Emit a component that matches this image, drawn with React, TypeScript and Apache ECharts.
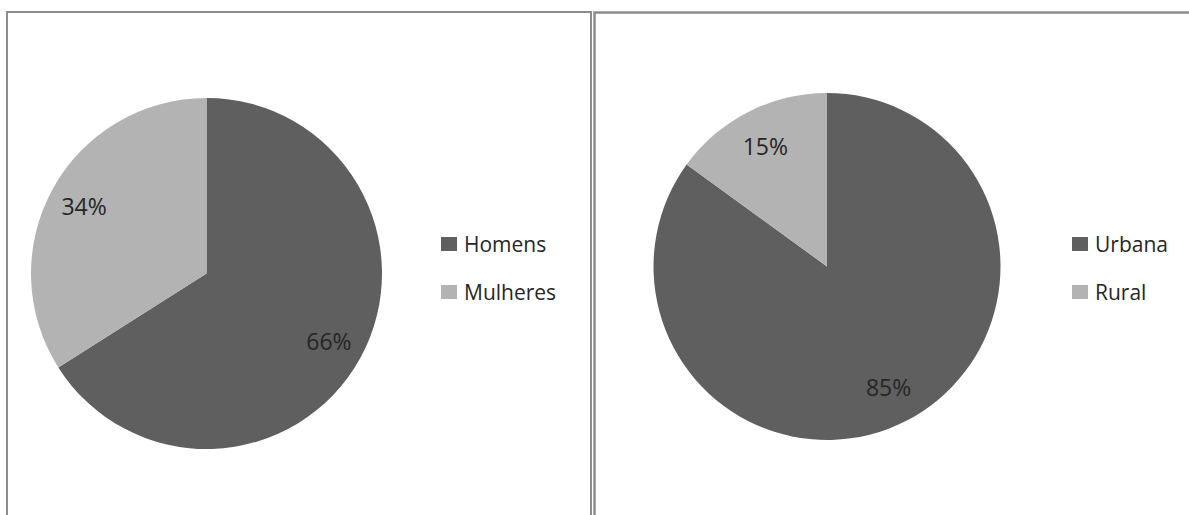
import React, { useEffect, useRef } from "react";
import * as echarts from "echarts";

const sexCategories = ["Homens", "Mulheres"];
const sexValues = [66, 34];
const areaCategories = ["Urbana", "Rural"];
const areaValues = [85, 15];
const sliceColors = ["#5f5f5f", "#b3b3b3"];

const FONT = "Open Sans";

function pieData(names: string[], values: number[], suffix = "") {
  return names.map((n, i) => ({
    name: n + suffix,
    value: values[i],
    itemStyle: { color: suffix ? "transparent" : sliceColors[i] },
  }));
}

export default function App() {
  const ref = useRef<HTMLDivElement>(null);
  useEffect(() => {
    if (!ref.current) return;
    const chart = echarts.init(ref.current, undefined, { renderer: "svg" });
    const legendBase = {
      orient: "vertical" as const,
      itemWidth: 16,
      itemHeight: 14,
      itemGap: 27,
      icon: "rect",
      selectedMode: false,
      padding: 0,
      textStyle: {
        fontFamily: FONT,
        fontSize: 21,
        lineHeight: 21,
        color: "#262626",
        padding: [0, 0, 0, 2],
      },
    };
    const labelStyle = {
      show: true,
      position: "inside" as const,
      formatter: "{d}%",
      fontFamily: FONT,
      fontSize: 23,
      color: "#262626",
    };
    chart.setOption({
      animation: false,
      backgroundColor: "#ffffff",
      graphic: [
        {
          type: "rect",
          shape: { x: 7, y: 12, width: 584, height: 600 },
          style: { fill: "none", stroke: "#8c8c8c", lineWidth: 2 },
          silent: true,
        },
        {
          type: "rect",
          shape: { x: 594.5, y: 12.5, width: 700, height: 600 },
          style: { fill: "none", stroke: "#8c8c8c", lineWidth: 2.5 },
          silent: true,
        },
      ],
      legend: [
        {
          ...legendBase,
          left: 441,
          top: 233.5,
          data: sexCategories.map((n, i) => ({ name: n, itemStyle: { color: sliceColors[i] } })),
        },
        {
          ...legendBase,
          left: 1072,
          top: 233.5,
          data: areaCategories.map((n, i) => ({ name: n, itemStyle: { color: sliceColors[i] } })),
        },
      ],
      series: [
        {
          type: "pie",
          center: [206.5, 273.5],
          radius: [0, 175.5],
          startAngle: 90,
          clockwise: true,
          silent: true,
          label: { show: false },
          labelLine: { show: false },
          itemStyle: { borderWidth: 0 },
          data: pieData(sexCategories, sexValues),
        },
        {
          type: "pie",
          center: [206.5, 273.5],
          radius: [98, 175.5],
          startAngle: 90,
          clockwise: true,
          silent: true,
          label: labelStyle,
          labelLine: { show: false },
          itemStyle: { borderWidth: 0 },
          data: pieData(sexCategories, sexValues, " "),
        },
        {
          type: "pie",
          center: [827, 266.5],
          radius: [0, 173.5],
          startAngle: 90,
          clockwise: true,
          silent: true,
          label: { show: false },
          labelLine: { show: false },
          itemStyle: { borderWidth: 0 },
          data: pieData(areaCategories, areaValues),
        },
        {
          type: "pie",
          center: [827, 266.5],
          radius: [92, 173.5],
          startAngle: 90,
          clockwise: true,
          silent: true,
          label: labelStyle,
          labelLine: { show: false },
          itemStyle: { borderWidth: 0 },
          data: pieData(areaCategories, areaValues, " "),
        },
      ],
    });
    return () => chart.dispose();
  }, []);
  return (
    <div
      ref={ref}
      style={{ position: "fixed", left: 0, top: 0, width: 1189, height: 515 }}
    />
  );
}
